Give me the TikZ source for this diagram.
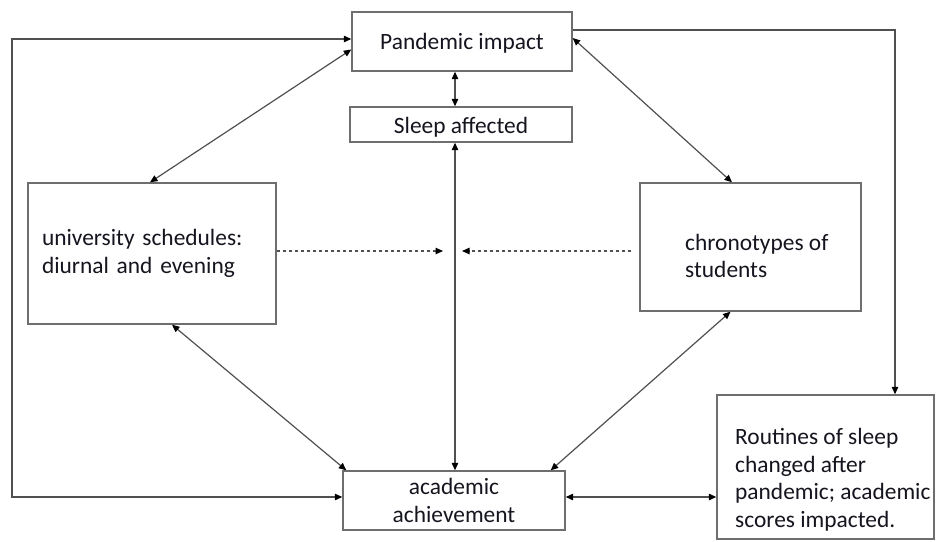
\documentclass[tikz,border=0pt]{standalone}
\usepackage{fontspec}
\setmainfont{Carlito}
\usetikzlibrary{arrows.meta,calc}
\definecolor{boxline}{HTML}{6E6E6E}
\definecolor{conn}{HTML}{505050}
\definecolor{txt}{HTML}{15151F}
\tikzset{
  box/.style={draw=boxline,line width=1.4pt,fill=white,inner sep=0pt,text=txt,font=\fontsize{23.4}{28}\selectfont},
  lbl/.style={inner sep=0pt,text=txt,font=\fontsize{23.4}{27.5}\selectfont,align=left,anchor=west},
  tip/.style={-{Triangle[length=7.5pt,width=6.5pt,color=black]}},
  both/.style={{Triangle[length=7.5pt,width=6.5pt,color=black]}-{Triangle[length=7.5pt,width=6.5pt,color=black]}},
  conline/.style={draw=conn,line width=1.2pt},
  dashline/.style={draw=conn,line width=1.2pt,dash pattern=on 3pt off 3pt}
}
\begin{document}
\begin{tikzpicture}[x=1pt,y=-1pt]
\useasboundingbox[fill=white] (0,0) rectangle (937,541);
% boxes
\node[box,minimum width=220pt,minimum height=59pt,text depth=0pt,text height=0pt] (pand) at (462,41.5) {\raisebox{-8pt}{Pandemic impact}};
\node[box,minimum width=222pt,minimum height=35pt,text depth=0pt,text height=0pt] (sleep) at (461,124.5) {\raisebox{-9pt}{Sleep affected}};
\node[box,minimum width=248pt,minimum height=141pt,text width=220pt,align=left] (univ) at (152,253.5) {university schedules:\\diurnal and evening};
\node[box,minimum width=221pt,minimum height=128pt] (chrono) at (750.5,247) {};
\node[lbl] (chronot) at (685,256) {chronotypes of\\students};
\node[box,minimum width=222pt,minimum height=59pt,align=center] (acad) at (454,500.5) {academic\\achievement};
\node[box,minimum width=217pt,minimum height=144pt] (rout) at (825.5,467) {};
\node[lbl] (routt) at (735,480) {Routines of sleep\\changed after\\pandemic; academic\\scores impacted.};
% coordinates
\coordinate (lc) at (12,0);
\coordinate (A) at ([yshift=3.5pt]acad.west);
\coordinate (B) at ([yshift=2.5pt]pand.west);
\coordinate (dl) at (443,251);
\coordinate (dr) at (462,251);
% connectors
\draw[conline,both] ([xshift=-7pt]pand.south) -- ([xshift=-7pt]pand.south |- sleep.north);
\draw[conline,both] ([xshift=-6pt]sleep.south) -- ([xshift=-6pt]sleep.south |- acad.north);
\draw[conline,both] ([yshift=-8pt]pand.west) -- ([xshift=-2pt]univ.north);
\draw[conline,both] (A) -- (A -| lc) -- (B -| lc) -- (B);
\draw[conline,both] ([xshift=20pt]univ.south) -- ([xshift=4pt]acad.north west);
\draw[conline,both] ([yshift=3.5pt]pand.east) -- ([xshift=-18.5pt]chrono.north);
\draw[conline,both] ([xshift=-20pt]chrono.south) -- ([xshift=-15pt]acad.north east);
\draw[conline,tip] ([yshift=11.5pt]pand.east) -| ([xshift=69.5pt]rout.north);
\draw[conline,both] ([yshift=3.5pt]acad.east) -- ([yshift=3.5pt]acad.east -| rout.west);
\draw[dashline,tip] ([yshift=2.5pt]univ.east) -- (dl);
\draw[dashline,tip] ([xshift=-8pt,yshift=-4pt]chrono.west) -- (dr);
\end{tikzpicture}
\end{document}
